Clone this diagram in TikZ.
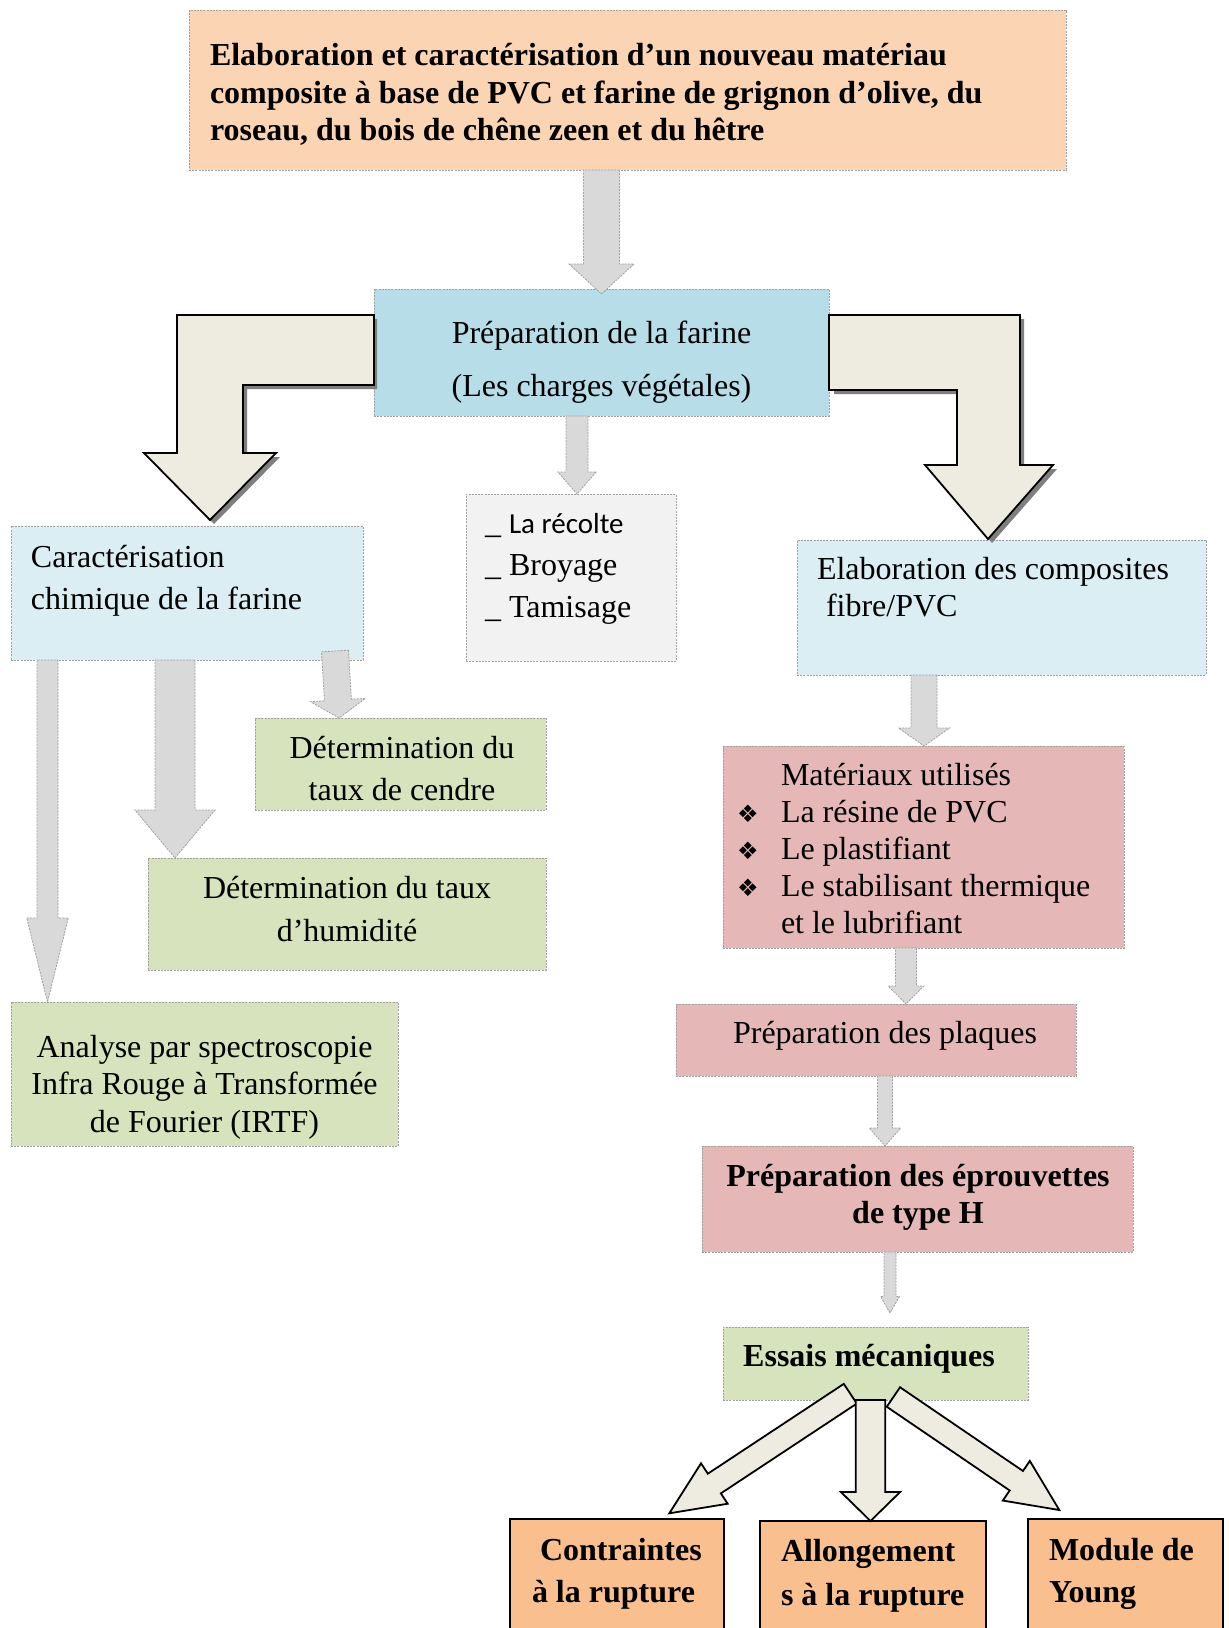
\documentclass[tikz,border=0pt]{standalone}
\usepackage{fontspec}
\setmainfont{Liberation Serif}
\newfontfamily\carlito{Carlito}
\newfontfamily\dejavu{DejaVu Sans}
\usetikzlibrary{calc}

\definecolor{cTitle}{HTML}{FBD4B4}
\definecolor{cPrep}{HTML}{B6DDE8}
\definecolor{cLBlue}{HTML}{DAEEF3}
\definecolor{cList}{HTML}{F2F2F2}
\definecolor{cGreen}{HTML}{D6E3BC}
\definecolor{cPink}{HTML}{E5B8B7}
\definecolor{cOrange}{HTML}{FABF8F}
\definecolor{cArrow}{HTML}{D9D9D9}
\definecolor{cElbow}{HTML}{EEECE1}
\definecolor{cBorder}{HTML}{A0A0A0}
\definecolor{cShadow}{HTML}{7F7F7F}

\tikzset{
  box/.style={draw=cBorder, line width=0.4pt, dash pattern=on 1pt off 0.6pt, inner sep=0pt, outer sep=0pt},
  strongbox/.style={draw=black, line width=1pt, fill=cOrange, inner sep=0pt, outer sep=0pt},
  txt/.style={inner sep=0pt, outer sep=0pt},
  grayarrow/.style={fill=cArrow, draw=cBorder, line width=0.4pt, dash pattern=on 1pt off 0.6pt},
  fatarrow/.style={fill=cElbow, draw=black, line width=0.9pt, line join=miter},
}

% box node from corners (pixels)
\newcommand\bxnode[6]{\node[#2, minimum width={(#5-#3)*0.5pt}, minimum height={(#6-#4)*0.5pt}] (#1) at ({(#3+#5)/2},{(#4+#6)/2}) {};}

% block arrow: style, start, tip, shaft half width, head half width, head length
\newcommand\blockarrow[6]{%
  \path (#2) coordinate (baA) (#3) coordinate (baB);
  \coordinate (baH) at ($(baB)!#6!(baA)$);
  \draw[#1] ($(baA)!#4!90:(baB)$) -- ($(baH)!#4!90:(baB)$) -- ($(baH)!#5!90:(baB)$) -- (baB)
     -- ($(baH)!#5!-90:(baB)$) -- ($(baH)!#4!-90:(baB)$) -- ($(baA)!#4!-90:(baB)$) -- cycle;
}

\newcommand\bul{\makebox[22pt][l]{\raisebox{0pt}{\dejavu\fontsize{12}{12}\selectfont ❖}}}

\begin{document}
\begin{tikzpicture}[x=0.5pt, y=-0.5pt]
\useasboundingbox (0,0) rectangle (1229,1628);
\fill[white] (0,0) rectangle (1229,1628);
\clip (0,0) rectangle (1229,1628);

% ---------- boxes ----------
\bxnode{title}{box, fill=cTitle}{189}{10}{1066}{170}
\bxnode{prep}{box, fill=cPrep}{374}{289}{829}{416}
\bxnode{list}{box, fill=cList}{466}{494}{676}{661}
\bxnode{caract}{box, fill=cLBlue}{11}{526}{363}{660}
\bxnode{elab}{box, fill=cLBlue}{797}{540}{1206}{675}
\bxnode{cendre}{box, fill=cGreen}{255}{718}{546}{810}
\bxnode{humid}{box, fill=cGreen}{148}{858}{546}{970}
\bxnode{analyse}{box, fill=cGreen}{11}{1002}{398}{1146}
\bxnode{mat}{box, fill=cPink}{723}{746}{1124}{948}
\bxnode{plaques}{box, fill=cPink}{676}{1004}{1076}{1076}
\bxnode{eprouv}{box, fill=cPink}{702}{1146}{1133}{1252}
\bxnode{essais}{box, fill=cGreen}{723}{1327}{1028}{1400}
\bxnode{contr}{strongbox}{510}{1519}{724}{1660}
\bxnode{allong}{strongbox}{760}{1521}{986}{1660}
\bxnode{module}{strongbox}{1028}{1519}{1223}{1660}

% ---------- texts ----------
\node[txt, anchor=base west] (tTitle) at (210,65.5) {\parbox[t]{432pt}{\raggedright\fontsize{16}{18.75}\selectfont\bfseries
  Elaboration et caractérisation d’un nouveau matériau\\
  composite à base de PVC et farine de grignon d’olive, du\\
  roseau, du bois de chêne zeen et du hêtre}};

\node[txt, anchor=base] (tPrep) at (601.5,343) {\parbox[t]{220pt}{\centering\fontsize{16}{26.5}\selectfont
  Préparation de la farine\\(Les charges végétales)}};

\node[txt, anchor=base west] (tList) at (485,533.5) {\parbox[t]{95pt}{\raggedright\fontsize{16}{20.9}\selectfont
  \_ {\carlito\fontsize{14.5}{14.5}\selectfont La récolte}\\\_ Broyage\\\_ Tamisage}};

\node[txt, anchor=base west] (tCaract) at (31,567) {\parbox[t]{170pt}{\raggedright\fontsize{16}{21}\selectfont
  Caractérisation\\chimique de la farine}};

\node[txt, anchor=base west] (tElab) at (817,579) {\parbox[t]{190pt}{\raggedright\fontsize{16}{18.5}\selectfont
  Elaboration des composites\\\hspace*{4.5pt}fibre/PVC}};

\node[txt, anchor=base] (tCendre) at (402,758) {\parbox[t]{140pt}{\centering\fontsize{16}{21.2}\selectfont
  Détermination du\\taux de cendre}};

\node[txt, anchor=base] (tHumid) at (347,898.5) {\parbox[t]{195pt}{\centering\fontsize{16}{21.4}\selectfont
  Détermination du taux\\d’humidité}};

\node[txt, anchor=base] (tAnalyse) at (204.5,1057.5) {\parbox[t]{190pt}{\centering\fontsize{16}{18.7}\selectfont
  Analyse par spectroscopie\\Infra Rouge à Transformée\\de Fourier (IRTF)}};

\node[txt, anchor=base west] (tMat) at (737,785) {\parbox[t]{190pt}{\raggedright\fontsize{16}{18.55}\selectfont
  \hspace*{22pt}Matériaux utilisés\\
  \bul La résine de PVC\\
  \bul Le plastifiant\\
  \bul Le stabilisant thermique\\
  \hspace*{22pt}et le lubrifiant}};

\node[txt, anchor=base] (tPlaques) at (885,1043) {\parbox[t]{190pt}{\centering\fontsize{16}{18}\selectfont
  Préparation des plaques}};

\node[txt, anchor=base] (tEprouv) at (918,1186) {\parbox[t]{210pt}{\centering\fontsize{16}{18.6}\selectfont\bfseries
  Préparation des éprouvettes\\de type H}};

\node[txt, anchor=base] (tEssais) at (869,1366) {\parbox[t]{150pt}{\centering\fontsize{16}{18}\selectfont\bfseries
  Essais mécaniques}};

\node[txt, anchor=base west] (tContr) at (532,1560) {\parbox[t]{100pt}{\raggedright\fontsize{16}{21}\selectfont\bfseries
  \hspace*{4pt}Contraintes\\à la rupture}};

\node[txt, anchor=base west] (tAllong) at (781,1561) {\parbox[t]{105pt}{\raggedright\fontsize{16}{22}\selectfont\bfseries
  Allongement\\s à la rupture}};

\node[txt, anchor=base west] (tModule) at (1049,1560) {\parbox[t]{90pt}{\raggedright\fontsize{16}{21}\selectfont\bfseries
  Module de\\Young}};

% ---------- gray arrows ----------
\coordinate (x577) at (577,0);
\coordinate (x47) at (47.5,0);
\coordinate (x175) at (175,0);
\coordinate (x924) at (924,0);
\coordinate (x906) at (906,0);
\coordinate (x885) at (885,0);
\coordinate (x890) at (890,0);
\coordinate (prepTip) at ($(prep.north)+(0,5)$);

\blockarrow{grayarrow}{title.south -| prep.north}{prepTip}{9pt}{16.25pt}{15pt}
\blockarrow{grayarrow}{prep.south -| x577}{list.north -| x577}{5.5pt}{9.5pt}{11pt}
\blockarrow{grayarrow}{caract.south -| x47}{analyse.north -| x47}{5.25pt}{10.4pt}{42pt}
\blockarrow{grayarrow}{caract.south -| x175}{humid.north -| x175}{10pt}{20pt}{24pt}
\coordinate (smallA) at (335,651);
\coordinate (smallB) at (339,718);
\blockarrow{grayarrow}{smallA}{smallB}{6.75pt}{13.75pt}{9pt}
\blockarrow{grayarrow}{elab.south -| x924}{mat.north -| x924}{6.5pt}{12.75pt}{9pt}
\blockarrow{grayarrow}{mat.south -| x906}{plaques.north -| x906}{5.25pt}{8.9pt}{9pt}
\blockarrow{grayarrow}{plaques.south -| x885}{eprouv.north -| x885}{3.75pt}{7.85pt}{9pt}
\coordinate (essTip) at (890,1313);
\blockarrow{grayarrow}{eprouv.south -| x890}{essTip}{3pt}{4.75pt}{8.25pt}

% ---------- elbow arrows with shadow ----------
\fill[cShadow, shift={(4,4)}] (373,315) -- (177,315) -- (177,453) -- (144,453) -- (210,520) -- (276,453) -- (243,453) -- (243,385) -- (373,385) -- cycle;
\draw[fatarrow] (prep.west |- 0,315) -- (177,315) -- (177,453) -- (144,453) -- (210,520) -- (276,453) -- (243,453) -- (243,385) -- (prep.west |- 0,385) -- cycle;

\fill[cShadow, shift={(4,4)}] (830,315) -- (1020,315) -- (1020,465) -- (1053,465) -- (988,539) -- (925,465) -- (957,465) -- (957,390) -- (830,390) -- cycle;
\draw[fatarrow] (prep.east |- 0,315) -- (1020,315) -- (1020,465) -- (1053,465) -- (988,539) -- (925,465) -- (957,465) -- (957,390) -- (prep.east |- 0,390) -- cycle;

% ---------- three arrows from Essais ----------
\coordinate (eL) at (850.3,1393.7);
\coordinate (eR) at (893.4,1397);
\coordinate (contrTip) at (669.3,1513.3);
\coordinate (moduleTip) at (1059.3,1510);
\coordinate (x870) at (870.5,0);
\blockarrow{fatarrow}{eL}{contrTip}{5.9pt}{12.1pt}{27pt}
\blockarrow{fatarrow}{eR}{moduleTip}{5.9pt}{12pt}{26pt}
\blockarrow{fatarrow}{essais.south -| x870}{allong.north -| x870}{7.4pt}{14.8pt}{14.5pt}

\end{tikzpicture}
\end{document}
